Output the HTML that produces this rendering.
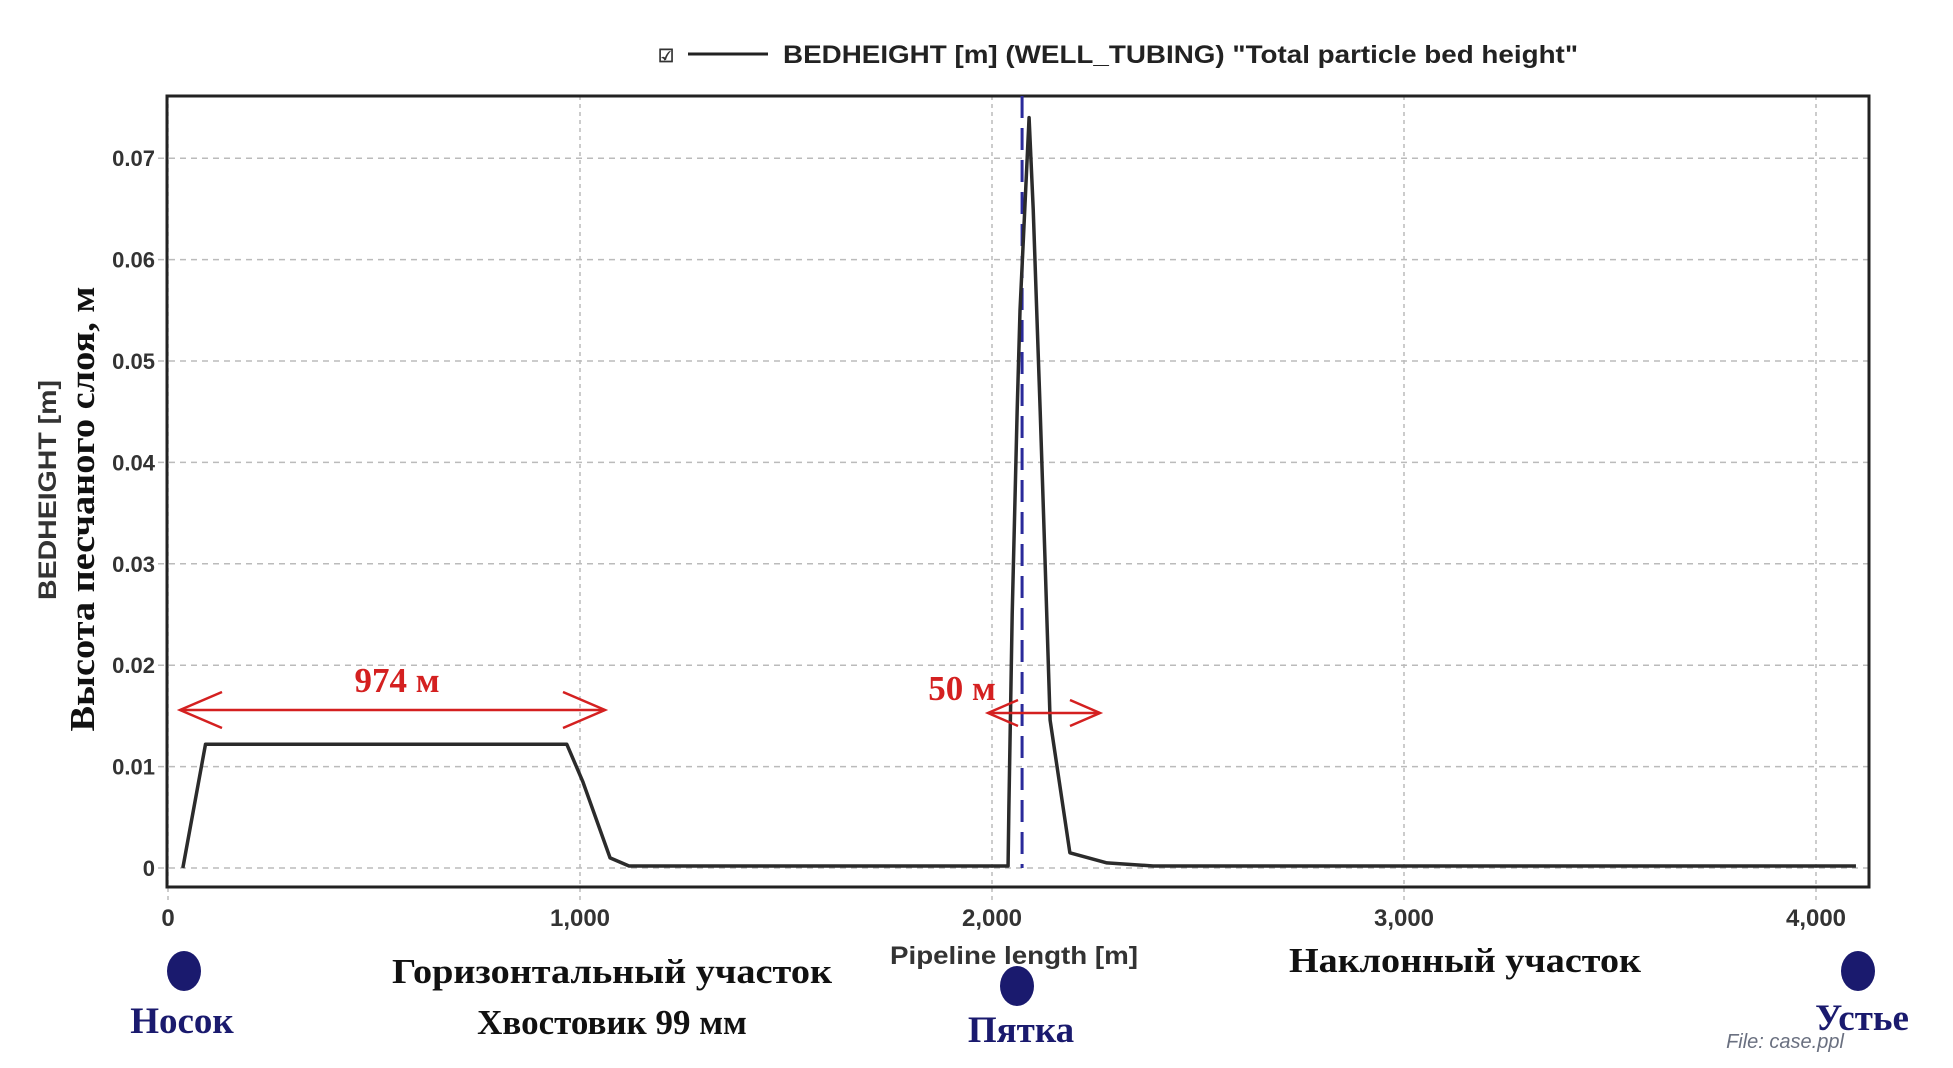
<!DOCTYPE html>
<html><head><meta charset="utf-8"><style>
html,body{margin:0;padding:0;background:#fff;}
svg{display:block;}
.tk{font-family:"Liberation Sans",sans-serif;font-weight:bold;font-size:22px;fill:#333;}
.ru{font-family:"Liberation Serif","Noto Serif CJK SC",serif;font-weight:bold;font-size:35px;fill:#111;}
.nv{font-family:"Liberation Serif","Noto Serif CJK SC",serif;font-weight:bold;font-size:37px;fill:#1a1a6e;}
</style></head><body>
<svg id="chart" width="1953" height="1068" viewBox="0 0 1953 1068">
<g id="grid"></g>
<rect x="167" y="96" width="1702" height="791" fill="none" stroke="#222" stroke-width="3"/>
<g id="ticks"></g>
<line id="heel-line" stroke="#2a2a9a" stroke-width="3" stroke-dasharray="22,10"/>
<path id="series" fill="none" stroke="#2b2b2b" stroke-width="3.5" stroke-linejoin="round"/>
<g>
<text x="658" y="62" class="tk" style="font-size:18px">☑</text>
<line x1="688" y1="54" x2="768" y2="54" stroke="#222" stroke-width="3"/>
<text x="783" y="63" class="tk" style="font-size:25px;fill:#222" textLength="795" lengthAdjust="spacingAndGlyphs">BEDHEIGHT [m] (WELL_TUBING) "Total particle bed height"</text>
</g>
<text transform="translate(56,490) rotate(-90)" text-anchor="middle" class="tk" style="font-size:25px" textLength="220" lengthAdjust="spacingAndGlyphs">BEDHEIGHT [m]</text>
<text transform="translate(94,509) rotate(-90)" text-anchor="middle" class="ru" textLength="445" lengthAdjust="spacingAndGlyphs">Высота песчаного слоя, м</text>
<text x="1014" y="964" text-anchor="middle" class="tk" style="font-size:25px" textLength="248" lengthAdjust="spacingAndGlyphs">Pipeline length [m]</text>
<g>
<g stroke="#d42020" stroke-width="2.5" fill="none">
<line x1="180" y1="710" x2="605" y2="710"/>
<polyline points="222,692 180,710 222,728"/><polyline points="563,692 605,710 563,728"/>
<line x1="988" y1="713" x2="1100" y2="713"/>
<polyline points="1018,700 988,713 1018,726"/><polyline points="1070,700 1100,713 1070,726"/>
</g>
<text x="397" y="692" text-anchor="middle" class="ru" style="fill:#d42020">974 м</text>
<text x="962" y="700" text-anchor="middle" class="ru" style="fill:#d42020">50 м</text>
</g>
<g>
<ellipse cx="184" cy="971" rx="17" ry="20" fill="#1a1a6e"/>
<ellipse cx="1017" cy="986" rx="17" ry="20" fill="#1a1a6e"/>
<ellipse cx="1858" cy="971" rx="17" ry="20" fill="#1a1a6e"/>
<text x="182" y="1033" text-anchor="middle" class="nv">Носок</text>
<text x="1021" y="1042" text-anchor="middle" class="nv">Пятка</text>
<text x="1785" y="1048" text-anchor="middle" style="font-family:'Liberation Sans',sans-serif;font-style:italic;font-size:20px;fill:#6a7080">File: case.ppl</text>
<text x="1862" y="1030" text-anchor="middle" class="nv">Устье</text>
<text x="612" y="983" text-anchor="middle" class="ru" textLength="440" lengthAdjust="spacingAndGlyphs">Горизонтальный участок</text>
<text x="612" y="1034" text-anchor="middle" class="ru">Хвостовик 99 мм</text>
<text x="1465" y="972" text-anchor="middle" class="ru" textLength="352" lengthAdjust="spacingAndGlyphs">Наклонный участок</text>
</g>
</svg>
<script>
const xTicks=[0,1000,2000,3000,4000];
const xTickLabels=["0","1,000","2,000","3,000","4,000"];
const yTicks=[0,0.01,0.02,0.03,0.04,0.05,0.06,0.07];
const yTickLabels=["0","0.01","0.02","0.03","0.04","0.05","0.06","0.07"];
const lengthM=[36,91,968,1007,1073,1119,2039,2041,2049,2061,2068,2090,2100,2117,2129,2141,2189,2279,2391,4097];
const bedHeight=[0,0.0122,0.0122,0.0085,0.001,0.0002,0.0002,0.006,0.025,0.045,0.055,0.074,0.065,0.045,0.03,0.0146,0.0015,0.0005,0.0002,0.0002];
const heelM=[2073];
const X=v=>168+v*0.412, Y=v=>868-v*10140;
const NS="http://www.w3.org/2000/svg";
const grid=document.getElementById('grid'), ticks=document.getElementById('ticks');
function mk(tag,attrs,parent){const e=document.createElementNS(NS,tag);for(const k in attrs)e.setAttribute(k,attrs[k]);parent.appendChild(e);return e;}
xTicks.forEach((v,i)=>{
 const g=mk('line',{x1:X(v),x2:X(v),y1:96,y2:900,stroke:'#bbb','stroke-width':1.5,'stroke-dasharray':'4,4'},grid);
 
 
 const t=mk('text',{x:X(v),y:926,'text-anchor':'middle',class:'tk',style:'font-size:24px'},ticks);t.textContent=xTickLabels[i];
 
 
});
yTicks.forEach((v,i)=>{
 const g=mk('line',{x1:158,x2:1869,y1:Y(v),y2:Y(v),stroke:'#bbb','stroke-width':1.5,'stroke-dasharray':'6,5'},grid);
 
 
 const t=mk('text',{x:155,y:Y(v)+8,'text-anchor':'end',class:'tk'},ticks);t.textContent=yTickLabels[i];
 
 
});
document.getElementById('series').setAttribute('d',lengthM.map((m,i)=>(i?'L':'M')+X(m)+','+Y(bedHeight[i])).join(' '));
const hl=document.getElementById('heel-line');
hl.setAttribute('x1',X(heelM[0]));hl.setAttribute('x2',X(heelM[0]));hl.setAttribute('y1',96);hl.setAttribute('y2',868);
</script>
</body></html>
